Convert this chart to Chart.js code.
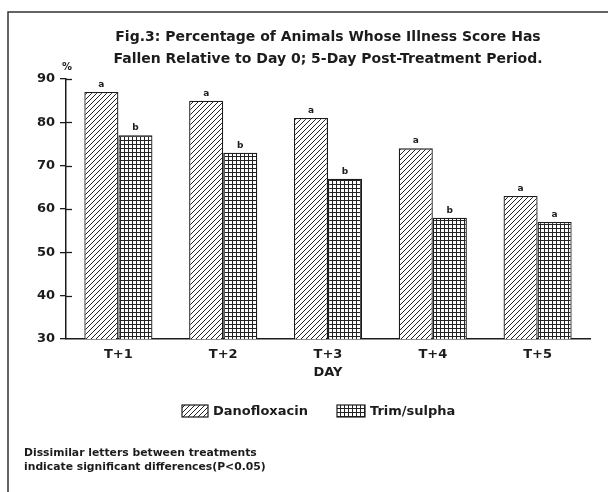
<!DOCTYPE html>
<html>
<head>
<meta charset="utf-8">
<script src="https://cdn.jsdelivr.net/npm/chart.js@4.4.0/dist/chart.umd.min.js"></script>
<style>
  body { margin: 0; background: #fff; }
  #wrap { width: 608px; height: 492px; }
</style>
</head>
<body>
<div id="wrap"><canvas id="fig3" width="608" height="492"></canvas></div>
<script>
const days = ['T+1', 'T+2', 'T+3', 'T+4', 'T+5'];
const danofloxacin = [87, 85, 81, 74, 63];
const trimSulpha = [77, 73, 67, 58, 57];
const danoLetters = ['a', 'a', 'a', 'a', 'a'];
const trimLetters = ['b', 'b', 'b', 'b', 'a'];
const yTicks = [30, 40, 50, 60, 70, 80, 90];

const FONT = '"DejaVu Sans", sans-serif';
const INK = '#1c1c1c';

// hatch patterns like the old print
function hatch() {
    const c = document.createElement('canvas');
    c.width = 5; c.height = 5;
    const g = c.getContext('2d');
    g.fillStyle = '#fff';
    g.fillRect(0, 0, 5, 5);
    g.strokeStyle = '#222';
    g.lineWidth = 1;
    g.beginPath();
    g.moveTo(-1, 6); g.lineTo(6, -1);
    g.moveTo(-1, 1); g.lineTo(1, -1);
    g.moveTo(4, 6); g.lineTo(6, 4);
    g.stroke();
    return g.createPattern(c, 'repeat');
}
function grid() {
    const c = document.createElement('canvas');
    c.width = 4; c.height = 4;
    const g = c.getContext('2d');
    g.fillStyle = '#fff';
    g.fillRect(0, 0, 4, 4);
    g.fillStyle = '#222';
    g.fillRect(0, 0, 4, 1);
    g.fillRect(0, 0, 1, 4);
    return g.createPattern(c, 'repeat');
}
const hatchFill = hatch();
const gridFill = grid();

const extras = {
    id: 'extras',
    afterDraw(chart) {
        const ctx = chart.ctx;
        const area = chart.chartArea;
        const y = chart.scales.y;
        ctx.save();
        // frame
        ctx.strokeStyle = '#333';
        ctx.lineWidth = 1.5;
        ctx.beginPath();
        ctx.moveTo(8, 492); ctx.lineTo(8, 12); ctx.lineTo(608, 12);
        ctx.stroke();
        // inner half of y ticks
        ctx.strokeStyle = INK;
        ctx.lineWidth = 1.3;
        yTicks.forEach(v => {
            if (v === 30) return;
            const py = Math.round(y.getPixelForValue(v)) + 0.5;
            ctx.beginPath();
            ctx.moveTo(area.left, py); ctx.lineTo(area.left + 6, py);
            ctx.stroke();
        });
        ctx.fillStyle = INK;
        // title
        ctx.textAlign = 'center';
        ctx.textBaseline = 'middle';
        ctx.font = 'bold 14px ' + FONT;
        const cx = (area.left + area.right) / 2;
        ctx.fillText('Fig.3: Percentage of Animals Whose Illness Score Has', cx, 37);
        ctx.fillText('Fallen Relative to Day 0; 5-Day Post-Treatment Period.', cx, 59);
        // unit
        ctx.font = 'bold 10px ' + FONT;
        ctx.fillText('%', area.left + 1, 67);
        // letters above bars
        ctx.font = 'bold 9px ' + FONT;
        ctx.textBaseline = 'bottom';
        [danoLetters, trimLetters].forEach((letters, di) => {
            chart.getDatasetMeta(di).data.forEach((bar, i) => {
                ctx.fillText(letters[i], bar.x, bar.y - 3);
            });
        });
        // legend
        ctx.textAlign = 'left';
        ctx.textBaseline = 'middle';
        ctx.font = 'bold 13px ' + FONT;
        const items = [
            { x: 182, w: 26, tx: 213 },
            { x: 337, w: 28, tx: 370 }
        ];
        chart.data.datasets.forEach((ds, i) => {
            const it = items[i];
            ctx.fillStyle = ds.backgroundColor;
            ctx.fillRect(it.x, 405, it.w, 12);
            ctx.strokeStyle = INK;
            ctx.lineWidth = 1.2;
            ctx.strokeRect(it.x, 405, it.w, 12);
            ctx.fillStyle = INK;
            ctx.fillText(ds.label, it.tx, 412);
        });
        // footnote
        ctx.font = 'bold 10.8px ' + FONT;
        ctx.fillText('Dissimilar letters between treatments', 24, 453);
        ctx.fillText('indicate significant differences(P<0.05)', 24, 467);
        ctx.restore();
    }
};

new Chart(document.getElementById('fig3'), {
    type: 'bar',
    data: {
        labels: days,
        datasets: [
            {
                label: 'Danofloxacin',
                data: danofloxacin,
                backgroundColor: hatchFill,
                borderColor: INK,
                borderWidth: 1.3,
                borderSkipped: false,
                barPercentage: 1,
                categoryPercentage: 0.65
            },
            {
                label: 'Trim/sulpha',
                data: trimSulpha,
                backgroundColor: gridFill,
                borderColor: INK,
                borderWidth: 1.3,
                borderSkipped: false,
                barPercentage: 1,
                categoryPercentage: 0.65
            }
        ]
    },
    options: {
        responsive: false,
        animation: false,
        layout: { padding: { left: 8, right: 18, top: 79, bottom: 112 } },
        plugins: {
            legend: { display: false },
            title: { display: false },
            tooltip: { enabled: false }
        },
        scales: {
            x: {
                grid: { display: false, drawTicks: false },
                border: { display: true, color: INK, width: 1.5 },
                ticks: { color: INK, padding: 8, font: { family: FONT, size: 13, weight: 'bold' } },
                title: {
                    display: true,
                    text: 'DAY',
                    color: INK,
                    padding: 0,
                    font: { family: FONT, size: 13, weight: 'bold' }
                },
                afterFit(s) { s.height = 41; }
            },
            y: {
                min: 30,
                max: 90,
                grid: { drawOnChartArea: false, drawTicks: true, tickLength: 6, color: INK, lineWidth: 1.3 },
                border: { display: true, color: INK, width: 1.5 },
                afterBuildTicks(s) { s.ticks = yTicks.map(v => ({ value: v })); },
                ticks: { color: INK, padding: 5, font: { family: FONT, size: 13, weight: 'bold' } },
                afterFit(s) { s.width = 58; }
            }
        }
    },
    plugins: [extras]
});
</script>
</body>
</html>
